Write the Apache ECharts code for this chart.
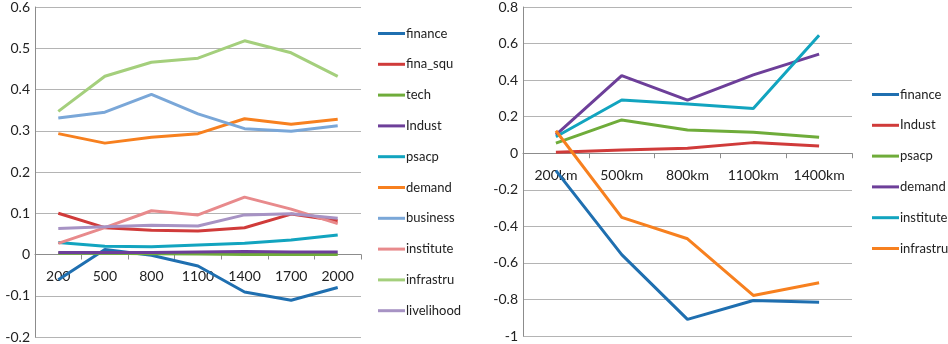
<!DOCTYPE html>
<html>
<head>
<meta charset="utf-8">
<script src="https://cdn.jsdelivr.net/npm/echarts@6/dist/echarts.min.js"></script>
<style>
  html, body { margin: 0; padding: 0; background: #fff; }
  #chart { width: 948px; height: 344px; }
</style>
</head>
<body>
<div id="chart"></div>
<script>
// left panel: distance in km (plain numbers)
const leftCats = ['200', '500', '800', '1100', '1400', '1700', '2000'];
const finance = [-0.061, 0.012, -0.002, -0.028, -0.091, -0.111, -0.080];
const finaSqu = [0.100, 0.065, 0.059, 0.057, 0.065, 0.098, 0.082];
const tech = [0.003, 0.003, 0.002, 0.001, 0.000, 0.000, 0.000];
const indust = [0.005, 0.005, 0.005, 0.006, 0.007, 0.006, 0.006];
const psacp = [0.029, 0.020, 0.019, 0.023, 0.027, 0.035, 0.047];
const demand = [0.293, 0.270, 0.284, 0.293, 0.329, 0.316, 0.328];
const business = [0.331, 0.345, 0.388, 0.341, 0.305, 0.299, 0.312];
const institute = [0.027, 0.065, 0.106, 0.096, 0.139, 0.110, 0.075];
const infrastru = [0.347, 0.432, 0.466, 0.476, 0.518, 0.489, 0.432];
const livelihood = [0.063, 0.067, 0.071, 0.069, 0.096, 0.099, 0.088];

// right panel
const rightCats = ['200km', '500km', '800km', '1100km', '1400km'];
const financeR = [-0.095, -0.555, -0.909, -0.806, -0.815];
const industR = [0.005, 0.018, 0.027, 0.058, 0.040];
const psacpR = [0.055, 0.182, 0.127, 0.115, 0.087];
const demandR = [0.100, 0.425, 0.291, 0.429, 0.542];
const instituteR = [0.090, 0.291, 0.269, 0.245, 0.645];
const infrastruR = [0.123, -0.351, -0.468, -0.778, -0.709];

const leftSeries = [
  ['finance', finance, '#1f6fb0'],
  ['fina_squ', finaSqu, '#d03b3a'],
  ['tech', tech, '#6fac3a'],
  ['Indust', indust, '#6d3f99'],
  ['psacp', psacp, '#12a4bf'],
  ['demand', demand, '#f7801f'],
  ['business', business, '#7aa7d8'],
  ['institute', institute, '#e88a8c'],
  ['infrastru', infrastru, '#a4cf7c'],
  ['livelihood', livelihood, '#a793c4'],
];
const rightSeries = [
  ['finance', financeR, '#1f6fb0'],
  ['Indust', industR, '#d03b3a'],
  ['psacp', psacpR, '#6fac3a'],
  ['demand', demandR, '#6d3f99'],
  ['institute', instituteR, '#12a4bf'],
  ['infrastru', infrastruR, '#f7801f'],
];

const FONT = 'Lato, "Open Sans", sans-serif';
const gridColor = '#b4b4b4';
const axisColor = '#8c8c8c';

const grids = [
  { left: 35, top: 7, width: 326, height: 330 },
  { left: 523, top: 7, width: 329, height: 329 },
];
const yRanges = [[-0.2, 0.6, 0.1], [-1, 0.8, 0.2]];

const mkSeries = (list, idx) => list.map(([name, data, color]) => ({
  name,
  type: 'line',
  xAxisIndex: idx,
  yAxisIndex: idx,
  data,
  showSymbol: false,
  symbol: 'none',
  lineStyle: { width: 3, color },
  itemStyle: { color },
  z: 3,
}));

const mkLegend = (list, left, top) => ({
  orient: 'vertical',
  left,
  top,
  padding: 0,
  icon: 'rect',
  itemWidth: 27,
  itemHeight: 3,
  itemGap: 17.8,
  selectedMode: false,
  textStyle: { fontFamily: FONT, fontSize: 13, color: '#222', padding: [0, 0, 0, -4] },
  data: list.map(([name, , color]) => ({ name, itemStyle: { color } })),
});

// v6 keeps labels at the grid bottom with onZero, so shift the whole axis up to y=0
const mkX = (cats, idx) => {
  const [min, max] = yRanges[idx];
  return {
    type: 'category',
    gridIndex: idx,
    data: cats,
    offset: -grids[idx].height * (0 - min) / (max - min),
    axisLine: { onZero: false, lineStyle: { color: axisColor, width: 1 } },
    axisTick: { show: true, length: 5, inside: false, lineStyle: { color: axisColor } },
    axisLabel: { interval: 0, margin: 15, fontFamily: FONT, fontSize: 14, color: '#222' },
    splitLine: { show: false },
    z: 2,
  };
};

const mkY = (idx) => {
  const [min, max, interval] = yRanges[idx];
  return {
    type: 'value',
    gridIndex: idx,
    min,
    max,
    interval,
    axisLine: { show: true, lineStyle: { color: axisColor } },
    axisTick: { show: false },
    axisLabel: { margin: 5, fontFamily: FONT, fontSize: 14, color: '#222',
      formatter: (v) => String(Math.round(v * 10) / 10) },
    splitLine: { show: true, lineStyle: { color: gridColor, width: 1 } },
  };
};

const myChart = echarts.init(document.getElementById('chart'), null, { renderer: 'canvas' });
myChart.setOption({
  animation: false,
  backgroundColor: '#fff',
  grid: grids,
  xAxis: [mkX(leftCats, 0), mkX(rightCats, 1)],
  yAxis: [mkY(0), mkY(1)],
  legend: [mkLegend(leftSeries, 378, 27), mkLegend(rightSeries, 872, 88)],
  series: [...mkSeries(leftSeries, 0), ...mkSeries(rightSeries, 1)],
});
</script>
</body>
</html>
